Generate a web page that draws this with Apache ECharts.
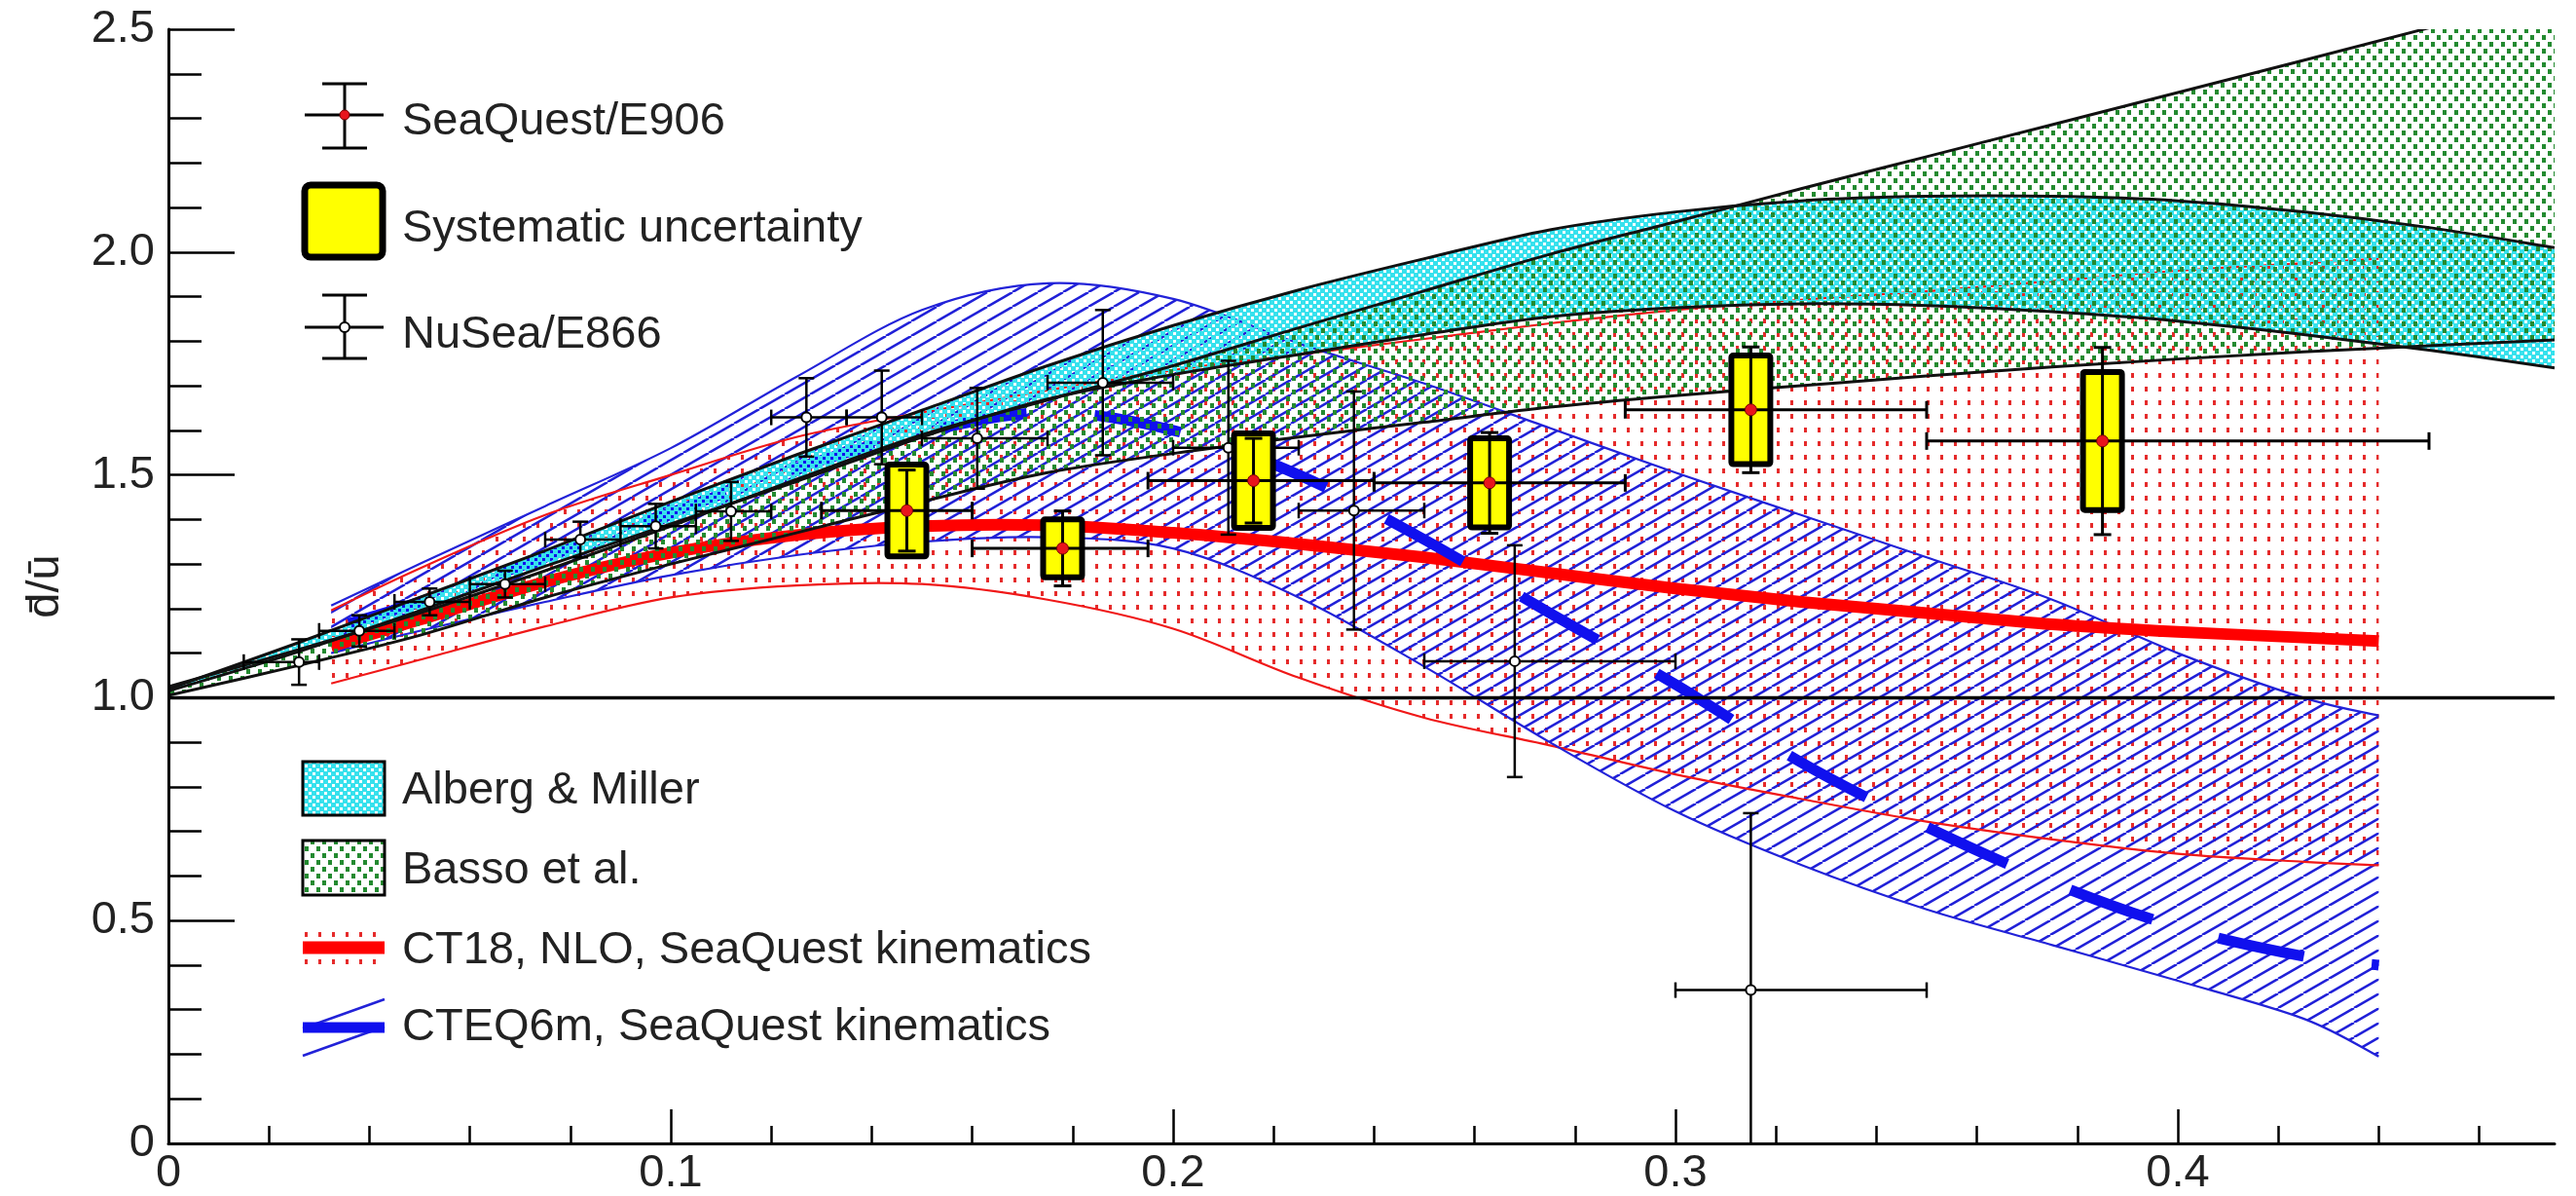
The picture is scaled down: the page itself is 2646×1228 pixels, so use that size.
<!DOCTYPE html>
<html>
<head>
<meta charset="utf-8">
<script src="https://cdn.jsdelivr.net/npm/echarts@6/dist/echarts.min.js"></script>
<style>
  html, body { margin: 0; padding: 0; background: #fff; }
  #chart { width: 2646px; height: 1228px; }
</style>
</head>
<body>
<div id="chart"></div>
<script>
// ---- Model bands (Alberg & Miller, Basso et al.) ----
const xModel      = [0, 0.025, 0.05, 0.075, 0.1, 0.125, 0.15, 0.175, 0.2, 0.225, 0.25, 0.275, 0.3, 0.325, 0.35, 0.375, 0.4, 0.425, 0.45, 0.475];
const albergUpper = [1.02, 1.12, 1.225, 1.33, 1.44, 1.545, 1.645, 1.745, 1.835, 1.915, 1.985, 2.05, 2.09, 2.115, 2.125, 2.125, 2.115, 2.09, 2.055, 2.01];
const albergLower = [1.015, 1.10, 1.195, 1.295, 1.39, 1.485, 1.585, 1.67, 1.725, 1.77, 1.815, 1.855, 1.875, 1.884, 1.88, 1.866, 1.845, 1.815, 1.78, 1.74];
const bassoUpper  = [1.025, 1.105, 1.19, 1.285, 1.385, 1.49, 1.59, 1.668, 1.745, 1.83, 1.913, 1.995, 2.068, 2.142, 2.214, 2.286, 2.358, 2.43, 2.503, 2.578];
const bassoLower  = [1.005, 1.07, 1.14, 1.225, 1.30, 1.37, 1.44, 1.505, 1.548, 1.585, 1.618, 1.652, 1.678, 1.70, 1.722, 1.742, 1.76, 1.776, 1.79, 1.803];

// ---- PDF predictions in SeaQuest kinematics ----
const xTheory     = [0.0324, 0.05, 0.075, 0.1, 0.125, 0.15, 0.175, 0.2, 0.225, 0.25, 0.275, 0.3, 0.325, 0.35, 0.375, 0.4, 0.425, 0.44];
const ct18Upper   = [1.196, 1.29, 1.41, 1.50, 1.585, 1.64, 1.69, 1.735, 1.77, 1.805, 1.84, 1.87, 1.893, 1.912, 1.935, 1.958, 1.975, 1.985];
const ct18Central = [1.115, 1.175, 1.26, 1.325, 1.365, 1.385, 1.387, 1.37, 1.345, 1.315, 1.28, 1.245, 1.215, 1.19, 1.165, 1.148, 1.135, 1.127];
const ct18Lower   = [1.032, 1.085, 1.16, 1.225, 1.252, 1.255, 1.22, 1.155, 1.045, 0.955, 0.893, 0.828, 0.773, 0.722, 0.682, 0.65, 0.632, 0.624];
const cteqUpper   = [1.207, 1.30, 1.43, 1.56, 1.72, 1.87, 1.93, 1.895, 1.795, 1.705, 1.605, 1.505, 1.41, 1.315, 1.22, 1.10, 1.00, 0.96];
const cteqCentral = [1.155, 1.215, 1.315, 1.415, 1.515, 1.595, 1.64, 1.60, 1.50, 1.355, 1.19, 1.03, 0.855, 0.71, 0.585, 0.485, 0.42, 0.40];
const cteqLower   = [1.10, 1.15, 1.215, 1.275, 1.32, 1.35, 1.36, 1.335, 1.225, 1.07, 0.90, 0.745, 0.625, 0.525, 0.445, 0.365, 0.28, 0.195];

// ---- NuSea / E866 measurements ----
const e866X     = [0.026, 0.038, 0.052, 0.067, 0.082, 0.097, 0.112, 0.127, 0.142, 0.161, 0.186, 0.211, 0.236, 0.268, 0.315];
const e866Ratio = [1.08, 1.15, 1.215, 1.255, 1.355, 1.385, 1.418, 1.629, 1.629, 1.582, 1.707, 1.561, 1.42, 1.082, 0.344];
const e866Err   = [0.051, 0.035, 0.03, 0.03, 0.04, 0.05, 0.066, 0.088, 0.105, 0.113, 0.163, 0.195, 0.267, 0.26, 0.397];
const e866XLow  = [0.015, 0.03, 0.045, 0.06, 0.075, 0.09, 0.105, 0.12, 0.135, 0.15, 0.175, 0.2, 0.225, 0.25, 0.30];
const e866XHigh = [0.03, 0.045, 0.06, 0.075, 0.09, 0.105, 0.12, 0.135, 0.15, 0.175, 0.2, 0.225, 0.25, 0.30, 0.35];

// ---- SeaQuest / E906 measurements ----
const sqX     = [0.147, 0.178, 0.216, 0.263, 0.315, 0.385];
const sqRatio = [1.42, 1.335, 1.487, 1.482, 1.646, 1.576];
const sqStat  = [0.091, 0.084, 0.095, 0.113, 0.141, 0.21];
const sqSys   = [0.103, 0.065, 0.106, 0.10, 0.122, 0.155];
const sqXLow  = [0.13, 0.16, 0.195, 0.24, 0.29, 0.35];
const sqXHigh = [0.16, 0.195, 0.24, 0.29, 0.35, 0.45];

// ---- reference line and axis ticks ----
const unityLine    = [[0, 1], [0.475, 1]];
const xTickValues  = [0, 0.1, 0.2, 0.3, 0.4];
const xTickLabels  = ['0', '0.1', '0.2', '0.3', '0.4'];
const xMinorValues = [0.02, 0.04, 0.06, 0.08, 0.12, 0.14, 0.16, 0.18, 0.22, 0.24, 0.26, 0.28, 0.32, 0.34, 0.36, 0.38, 0.42, 0.44, 0.46];
const yTickValues  = [0, 0.5, 1, 1.5, 2, 2.5];
const yTickLabels  = ['0', '0.5', '1.0', '1.5', '2.0', '2.5'];

const FONT = '"Liberation Sans", Arial, Helvetica, sans-serif';
const TEXT = '#222';
const FS = 47;

// ---- fill patterns ----
function makePattern(w, h, draw) {
  const c = document.createElement('canvas');
  c.width = w; c.height = h;
  draw(c.getContext('2d'));
  return { image: c, repeat: 'repeat' };
}
const cyanPattern = makePattern(8, 8, ctx => {
  ctx.fillStyle = '#36e1ed';
  ctx.fillRect(0, 0, 8, 8);
  ctx.clearRect(1, 1, 3, 3);
  ctx.clearRect(5, 5, 3, 3);
});
const greenDots = makePattern(12, 14, ctx => {
  ctx.fillStyle = '#238a30';
  ctx.fillRect(1, 1, 4, 5);
  ctx.fillRect(7, 8, 4, 5);
});
const redDots = makePattern(14, 14, ctx => {
  ctx.fillStyle = '#e52b2b';
  ctx.fillRect(5, 5, 3, 5);
});
const blueHatch = makePattern(26, 15, ctx => {
  ctx.strokeStyle = '#2020d8';
  ctx.lineWidth = 2.5;
  for (const dx of [-26, 0, 26]) {
    ctx.beginPath();
    ctx.moveTo(dx, 15);
    ctx.lineTo(dx + 26, 0);
    ctx.stroke();
  }
});

// ---- smooth curve through pixel points (Catmull-Rom as cubic Bezier) ----
function curveSegs(pts) {
  let d = '';
  for (let i = 0; i < pts.length - 1; i++) {
    const p0 = pts[i - 1] || pts[i], p1 = pts[i], p2 = pts[i + 1], p3 = pts[i + 2] || p2;
    const c1 = [p1[0] + (p2[0] - p0[0]) / 6, p1[1] + (p2[1] - p0[1]) / 6];
    const c2 = [p2[0] - (p3[0] - p1[0]) / 6, p2[1] - (p3[1] - p1[1]) / 6];
    d += 'C' + c1[0] + ',' + c1[1] + ',' + c2[0] + ',' + c2[1] + ',' + p2[0] + ',' + p2[1];
  }
  return d;
}
function curve(pts) {
  return 'M' + pts[0][0] + ',' + pts[0][1] + curveSegs(pts);
}

function bandFill(name, xs, upper, lower, fill, z) {
  return {
    type: 'custom', name, z, clip: true, silent: true, data: [[xs[0], lower[0]]],
    renderItem(params, api) {
      const up = xs.map((x, i) => api.coord([x, upper[i]]));
      const lo = xs.map((x, i) => api.coord([x, lower[i]])).reverse();
      const d = curve(up) + 'L' + lo[0][0] + ',' + lo[0][1] + curveSegs(lo) + 'Z';
      return { type: 'path', shape: { pathData: d }, style: { fill: fill, stroke: 'none' } };
    }
  };
}
function curveLine(name, xs, ys, color, width, z, dash, dashOffset) {
  return {
    type: 'custom', name, z, clip: true, silent: true, data: [[xs[0], ys[0]]],
    renderItem(params, api) {
      const pts = xs.map((x, i) => api.coord([x, ys[i]]));
      const style = { fill: 'none', stroke: color, lineWidth: width, lineCap: 'butt', lineJoin: 'round' };
      if (dash) { style.lineDash = dash; style.lineDashOffset = dashOffset || 0; }
      return { type: 'path', shape: { pathData: curve(pts) }, style };
    }
  };
}

function seg(a, b, w) {
  return { type: 'line', shape: { x1: a[0], y1: a[1], x2: b[0], y2: b[1] }, style: { stroke: '#000', lineWidth: w } };
}

const e866Data = e866X.map((x, i) => [x, e866Ratio[i], e866Err[i], e866XLow[i], e866XHigh[i]]);
const sqData = sqX.map((x, i) => [x, sqRatio[i], sqStat[i], sqSys[i], sqXLow[i], sqXHigh[i]]);

const series = [
  bandFill('CT18 band', xTheory, ct18Upper, ct18Lower, redDots, 2),
  bandFill('CTEQ6m band', xTheory, cteqUpper, cteqLower, blueHatch, 3),
  curveLine('CT18 upper', xTheory, ct18Upper, '#f01818', 2.2, 4),
  curveLine('CT18 lower', xTheory, ct18Lower, '#f01818', 2.2, 4),
  curveLine('CTEQ6m upper', xTheory, cteqUpper, '#2222d8', 2.2, 4),
  curveLine('CTEQ6m lower', xTheory, cteqLower, '#2222d8', 2.2, 4),
  curveLine('CT18, NLO, SeaQuest kinematics', xTheory, ct18Central, '#ff0000', 12, 5),
  curveLine('CTEQ6m, SeaQuest kinematics', xTheory, cteqCentral, '#1010ee', 11, 6, [90, 70], 141),
  bandFill('Alberg & Miller', xModel, albergUpper, albergLower, cyanPattern, 7),
  bandFill('Basso et al.', xModel, bassoUpper, bassoLower, greenDots, 8),
  curveLine('Alberg upper', xModel, albergUpper, '#111', 3, 9),
  curveLine('Alberg lower', xModel, albergLower, '#111', 3, 9),
  curveLine('Basso upper', xModel, bassoUpper, '#111', 3, 9),
  curveLine('Basso lower', xModel, bassoLower, '#111', 3, 9),
  {
    type: 'line', name: 'unity', data: unityLine, symbol: 'none', silent: true, z: 10,
    lineStyle: { color: '#000', width: 3.5 }
  },
  {
    type: 'custom', name: 'NuSea/E866', data: e866Data, clip: true, z: 11, silent: true,
    renderItem(params, api) {
      const x = api.value(0), y = api.value(1), e = api.value(2);
      const c = api.coord([x, y]);
      const t = api.coord([x, y + e]), b = api.coord([x, y - e]);
      const l = api.coord([api.value(3), y]), r = api.coord([api.value(4), y]);
      const cw = 8;
      return {
        type: 'group', children: [
          seg(l, r, 2.5), seg(t, b, 2.5),
          seg([t[0] - cw, t[1]], [t[0] + cw, t[1]], 2.5),
          seg([b[0] - cw, b[1]], [b[0] + cw, b[1]], 2.5),
          seg([l[0], l[1] - cw], [l[0], l[1] + cw], 2.5),
          seg([r[0], r[1] - cw], [r[0], r[1] + cw], 2.5),
          { type: 'circle', shape: { cx: c[0], cy: c[1], r: 5 }, style: { fill: '#fff', stroke: '#000', lineWidth: 2 } }
        ]
      };
    }
  },
  {
    type: 'custom', name: 'SeaQuest/E906', data: sqData, clip: true, z: 12, silent: true,
    renderItem(params, api) {
      const x = api.value(0), y = api.value(1), st = api.value(2), sy = api.value(3);
      const c = api.coord([x, y]);
      const bt = api.coord([x, y + sy]), bb = api.coord([x, y - sy]);
      const t = api.coord([x, y + st]), b = api.coord([x, y - st]);
      const l = api.coord([api.value(4), y]), r = api.coord([api.value(5), y]);
      const half = 20, cw = 9;
      return {
        type: 'group', children: [
          { type: 'rect', shape: { x: c[0] - half, y: bt[1], width: 2 * half, height: bb[1] - bt[1], r: 2 },
            style: { fill: '#ffff00', stroke: '#000', lineWidth: 6 } },
          seg(l, r, 3), seg(t, b, 3),
          seg([t[0] - cw, t[1]], [t[0] + cw, t[1]], 3),
          seg([b[0] - cw, b[1]], [b[0] + cw, b[1]], 3),
          seg([l[0], l[1] - cw], [l[0], l[1] + cw], 3),
          seg([r[0], r[1] - cw], [r[0], r[1] + cw], 3),
          { type: 'circle', shape: { cx: c[0], cy: c[1], r: 6 }, style: { fill: '#e8141c', stroke: '#700', lineWidth: 1 } }
        ]
      };
    }
  }
];

// ---- legend drawn as graphic elements ----
function gLine(x1, y1, x2, y2, w, color) {
  return { type: 'line', silent: true, z: 100, shape: { x1, y1, x2, y2 }, style: { stroke: color || '#000', lineWidth: w } };
}
function gText(x, y, text) {
  return { type: 'text', silent: true, z: 100, x, y,
    style: { text, fill: TEXT, fontSize: FS, fontFamily: FONT, align: 'left', verticalAlign: 'middle' } };
}
const legendElements = [
  // SeaQuest/E906
  gLine(354, 86, 354, 152, 3), gLine(331, 86, 377, 86, 3), gLine(331, 152, 377, 152, 3), gLine(313, 118, 394, 118, 3),
  { type: 'circle', silent: true, z: 101, shape: { cx: 354, cy: 118, r: 5 }, style: { fill: '#e8141c', stroke: '#700', lineWidth: 1 } },
  gText(413, 125, 'SeaQuest/E906'),
  // Systematic uncertainty
  { type: 'rect', silent: true, z: 100, shape: { x: 313, y: 190, width: 80, height: 74, r: 6 }, style: { fill: '#ffff00', stroke: '#000', lineWidth: 7 } },
  gText(413, 235, 'Systematic uncertainty'),
  // NuSea/E866
  gLine(354, 303, 354, 368, 3), gLine(331, 303, 377, 303, 3), gLine(331, 368, 377, 368, 3), gLine(313, 336, 394, 336, 3),
  { type: 'circle', silent: true, z: 101, shape: { cx: 354, cy: 336, r: 5 }, style: { fill: '#fff', stroke: '#000', lineWidth: 2 } },
  gText(413, 344, 'NuSea/E866'),
  // Alberg & Miller
  { type: 'rect', silent: true, z: 100, shape: { x: 311, y: 782, width: 84, height: 55 }, style: { fill: cyanPattern, stroke: '#000', lineWidth: 3 } },
  gText(413, 812, 'Alberg & Miller'),
  // Basso et al.
  { type: 'rect', silent: true, z: 100, shape: { x: 311, y: 863, width: 84, height: 56 }, style: { fill: greenDots, stroke: '#000', lineWidth: 3 } },
  gText(413, 894, 'Basso et al.'),
  // CT18
  { type: 'rect', silent: true, z: 100, shape: { x: 311, y: 951, width: 84, height: 44 }, style: { fill: redDots, stroke: 'none' } },
  gLine(311, 973, 395, 973, 13, '#ff0000'),
  gText(413, 976, 'CT18, NLO, SeaQuest kinematics'),
  // CTEQ6m
  gLine(311, 1056, 395, 1026, 2.5, '#2222d8'), gLine(311, 1084, 395, 1054, 2.5, '#2222d8'),
  gLine(311, 1055, 395, 1055, 11, '#1010ee'),
  gText(413, 1055, 'CTEQ6m, SeaQuest kinematics')
];

const tickFmt = (vals, labels) => v => {
  const i = vals.findIndex(t => Math.abs(t - v) < 1e-9);
  return i >= 0 ? labels[i] : '';
};

const option = {
  animation: false,
  backgroundColor: '#fff',
  grid: { left: 173, right: 22, top: 30, bottom: 54, containLabel: false, outerBoundsMode: 'none' },
  xAxis: [
    {
      type: 'value', min: 0, max: 0.475, interval: 0.1, position: 'bottom', z: 40,
      axisLine: { show: true, onZero: false, lineStyle: { color: '#000', width: 3 } },
      axisTick: { show: true, inside: true, length: 35, customValues: xTickValues, lineStyle: { color: '#000', width: 2.5 } },
      axisLabel: { show: true, margin: 8, fontSize: FS, fontFamily: FONT, color: TEXT, customValues: xTickValues,
        formatter: tickFmt(xTickValues, xTickLabels) },
      splitLine: { show: false }, minorTick: { show: false }
    },
    {
      type: 'value', min: 0, max: 0.475, interval: 0.02, position: 'bottom', z: 40,
      axisLine: { show: false, onZero: false },
      axisTick: { show: true, inside: true, length: 18, customValues: xMinorValues, lineStyle: { color: '#000', width: 2.5 } },
      axisLabel: { show: false }, splitLine: { show: false }
    }
  ],
  yAxis: {
    type: 'value', min: 0, max: 2.5, interval: 0.5, z: 40,
    axisLine: { show: true, onZero: false, lineStyle: { color: '#000', width: 3 } },
    axisTick: { show: true, inside: true, length: 68, lineStyle: { color: '#000', width: 2.5 } },
    minorTick: { show: true, splitNumber: 5, length: 34, lineStyle: { color: '#000', width: 2.5 } },
    axisLabel: { margin: 14, fontSize: FS, fontFamily: FONT, color: TEXT, formatter: tickFmt(yTickValues, yTickLabels) },
    splitLine: { show: false },
    name: 'd\u0304/\u016B', nameLocation: 'middle', nameRotate: 90, nameGap: 102,
    nameTextStyle: { fontSize: FS, fontFamily: FONT, color: TEXT }
  },
  graphic: { elements: legendElements },
  series
};

const chart = echarts.init(document.getElementById('chart'), null, { renderer: 'canvas' });
chart.setOption(option);
</script>
</body>
</html>
